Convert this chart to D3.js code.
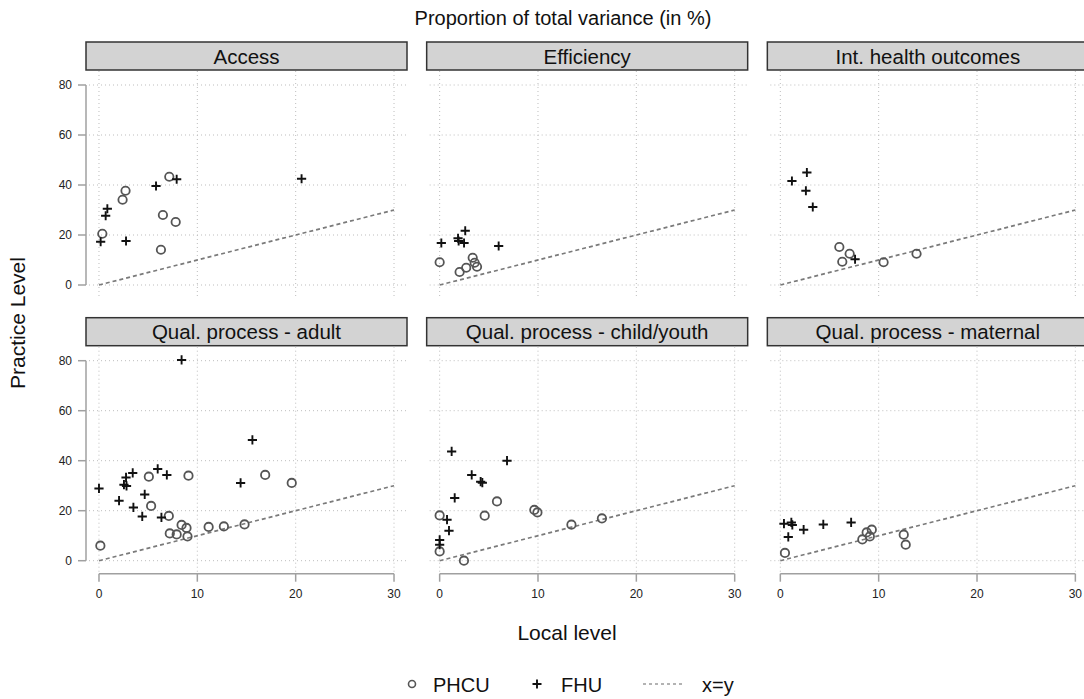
<!DOCTYPE html>
<html>
<head>
<meta charset="utf-8">
<script src="https://cdn.jsdelivr.net/npm/d3@7"></script>
<style>
  body { margin: 0; background: #fff; }
  svg { display: block; font-family: "Liberation Sans", Arial, sans-serif; }
</style>
</head>
<body>
<svg id="chart" width="1084" height="699"></svg>
<script>
// panel titles, in reading order
const panelNames = ['Access', 'Efficiency', 'Int. health outcomes',
  'Qual. process - adult', 'Qual. process - child/youth', 'Qual. process - maternal'];

// [local level, practice level] per unit
const accessPHCU = [[7.15, 43.3], [2.7, 37.7], [2.4, 34.1], [6.5, 28.0], [7.8, 25.2], [0.34, 20.5], [6.3, 14.1]];
const accessFHU = [[7.9, 42.3], [20.6, 42.5], [5.8, 39.6], [0.85, 30.5], [0.68, 27.7], [0.17, 17.3], [2.75, 17.6]];

const efficiencyPHCU = [[0, 9.1], [3.36, 10.9], [3.56, 8.9], [3.8, 7.3], [2.7, 6.9], [2.03, 5.2]];
const efficiencyFHU = [[0.17, 16.8], [2.6, 21.7], [1.87, 18.7], [1.93, 17.6], [2.48, 16.8], [6.0, 15.6]];

const healthPHCU = [[6.0, 15.2], [7.05, 12.5], [6.3, 9.3], [10.5, 9.1], [13.85, 12.5]];
const healthFHU = [[1.18, 41.6], [2.7, 45.0], [2.6, 37.7], [3.3, 31.2], [7.6, 10.3]];

const adultPHCU = [[5.07, 33.6], [9.1, 34.0], [16.9, 34.3], [19.6, 31.1], [5.3, 21.9], [7.1, 17.9],
  [8.4, 14.3], [8.9, 13.1], [11.15, 13.5], [12.7, 13.7], [14.8, 14.5], [7.2, 10.9], [7.9, 10.5],
  [9.0, 9.7], [0.14, 6.0]];
const adultFHU = [[8.4, 80.3], [15.6, 48.3], [5.97, 36.7], [3.43, 35.1], [2.75, 33.3], [6.9, 34.3],
  [2.54, 30.4], [2.8, 29.9], [0, 28.9], [14.4, 31.1], [4.65, 26.5], [2.04, 24.0], [3.5, 21.3],
  [4.4, 17.7], [6.35, 17.3]];

const childPHCU = [[5.83, 23.7], [0, 18.1], [4.58, 18.0], [9.63, 20.3], [9.94, 19.3], [13.4, 14.4],
  [16.5, 16.9], [0, 3.7], [2.47, 0]];
const childFHU = [[1.22, 43.7], [6.85, 40.0], [3.26, 34.3], [4.17, 31.6], [4.34, 31.2], [1.53, 25.1],
  [0.75, 16.4], [0.95, 12.0], [0, 8.3], [0, 6.4]];

const maternalPHCU = [[0.47, 3.1], [8.34, 8.5], [8.78, 11.3], [9.3, 12.4], [9.1, 9.7], [12.55, 10.4], [12.75, 6.4]];
const maternalFHU = [[0.37, 14.8], [1.12, 15.3], [1.22, 14.3], [0.81, 9.5], [2.37, 12.4], [4.37, 14.5], [7.2, 15.3]];

const phcuSets = [accessPHCU, efficiencyPHCU, healthPHCU, adultPHCU, childPHCU, maternalPHCU];
const fhuSets = [accessFHU, efficiencyFHU, healthFHU, adultFHU, childFHU, maternalFHU];

const xTicks = [0, 10, 20, 30];
const yTicks = [0, 20, 40, 60, 80];
const diagonal = [[0, 0], [30, 30]];

// ============ layout ============
const svg = d3.select('#chart');
const panelW = 321, panelStep = 340.67, panelLeft0 = 86;
const stripH = 28, plotH = 227;
const rowStripTop = [42, 317.7];

const x = d3.scaleLinear().domain([-1.32, 31.32]).range([0, panelW]);
const y = d3.scaleLinear().domain([-5.2, 85.6]).range([plotH, 0]);

panelNames.forEach((name, i) => {
  const col = i % 3, row = Math.floor(i / 3);
  const left = panelLeft0 + col * panelStep;
  const stripTop = rowStripTop[row];
  const plotTop = stripTop + stripH + 1;

  // strip
  const strip = svg.append('g').attr('transform', `translate(${left},${stripTop})`);
  strip.append('rect')
    .attr('width', panelW).attr('height', stripH)
    .style('fill', '#d3d3d3').style('stroke', '#333').style('stroke-width', 1.5);
  strip.append('text')
    .attr('x', panelW / 2).attr('y', stripH / 2 + 7.5)
    .attr('text-anchor', 'middle')
    .style('font-size', '20.5px').style('fill', '#111')
    .text(name);

  const g = svg.append('g').attr('transform', `translate(${left},${plotTop})`);

  // dotted grid
  g.selectAll('.gy').data(yTicks).enter().append('line')
    .attr('x1', 3).attr('x2', panelW - 1)
    .attr('y1', d => y(d)).attr('y2', d => y(d))
    .style('stroke', '#bdbdbd').style('stroke-width', 1).style('stroke-dasharray', '1,3');
  g.selectAll('.gx').data(xTicks).enter().append('line')
    .attr('x1', d => x(d)).attr('x2', d => x(d))
    .attr('y1', 0).attr('y2', plotH)
    .style('stroke', '#bdbdbd').style('stroke-width', 1).style('stroke-dasharray', '1,3');

  // x=y reference
  g.append('path')
    .attr('d', d3.line().x(d => x(d[0])).y(d => y(d[1]))(diagonal))
    .style('fill', 'none').style('stroke', '#7a7a7a').style('stroke-width', 1.7)
    .style('stroke-dasharray', '4,3');

  // PHCU circles
  g.selectAll('.phcu').data(phcuSets[i]).enter().append('circle')
    .attr('cx', d => x(d[0])).attr('cy', d => y(d[1])).attr('r', 4.2)
    .style('fill', 'none').style('stroke', '#555').style('stroke-width', 1.8);

  // FHU plus signs
  g.selectAll('.fhu').data(fhuSets[i]).enter().append('path')
    .attr('d', d => {
      const cx = x(d[0]), cy = y(d[1]), s = 4.6;
      return `M${cx - s},${cy}H${cx + s}M${cx},${cy - s}V${cy + s}`;
    })
    .style('stroke', '#111').style('stroke-width', 1.9).style('fill', 'none');

  // y axis, first column only
  if (col === 0) {
    const ax = g.append('g');
    ax.append('line')
      .attr('x1', 0).attr('x2', 0).attr('y1', y(0)).attr('y2', y(80))
      .style('stroke', '#a0a0a0').style('stroke-width', 1.5);
    ax.selectAll('.yt').data(yTicks).enter().append('line')
      .attr('x1', -8).attr('x2', 0).attr('y1', d => y(d)).attr('y2', d => y(d))
      .style('stroke', '#a0a0a0').style('stroke-width', 1.5);
    ax.selectAll('.yl').data(yTicks).enter().append('text')
      .attr('x', -14).attr('y', d => y(d) + 4)
      .attr('text-anchor', 'end')
      .style('font-size', '12px').style('fill', '#222')
      .text(d => d);
  }

  // x axis, bottom row only
  if (row === 1) {
    const ax = g.append('g').attr('transform', `translate(0,${plotH})`);
    ax.append('line')
      .attr('x1', x(0)).attr('x2', x(30)).attr('y1', 0).attr('y2', 0)
      .style('stroke', '#a0a0a0').style('stroke-width', 1.5);
    ax.selectAll('.xt').data(xTicks).enter().append('line')
      .attr('x1', d => x(d)).attr('x2', d => x(d)).attr('y1', 0).attr('y2', 8)
      .style('stroke', '#a0a0a0').style('stroke-width', 1.5);
    ax.selectAll('.xl').data(xTicks).enter().append('text')
      .attr('x', d => x(d)).attr('y', 24)
      .attr('text-anchor', 'middle')
      .style('font-size', '12px').style('fill', '#222')
      .text(d => d);
  }
});

// ============ titles ============
svg.append('text')
  .attr('x', 563).attr('y', 25)
  .attr('text-anchor', 'middle')
  .style('font-size', '20px').style('fill', '#111')
  .text('Proportion of total variance (in %)');

svg.append('text')
  .attr('x', 567).attr('y', 640)
  .attr('text-anchor', 'middle')
  .style('font-size', '21px').style('fill', '#111')
  .text('Local level');

svg.append('text')
  .attr('transform', 'translate(25,323) rotate(-90)')
  .attr('text-anchor', 'middle')
  .style('font-size', '21px').style('fill', '#111')
  .text('Practice Level');

// ============ legend ============
const legend = svg.append('g').attr('transform', 'translate(0,684)');
legend.append('circle')
  .attr('cx', 412).attr('cy', 0).attr('r', 3.5)
  .style('fill', 'none').style('stroke', '#555').style('stroke-width', 1.6);
legend.append('text').attr('x', 433).attr('y', 7.5)
  .style('font-size', '20px').style('fill', '#111').text('PHCU');
legend.append('path')
  .attr('d', 'M532.5,0H541.5M537,-4.5V4.5')
  .style('stroke', '#111').style('stroke-width', 1.9);
legend.append('text').attr('x', 561).attr('y', 7.5)
  .style('font-size', '20px').style('fill', '#111').text('FHU');
legend.append('line')
  .attr('x1', 643).attr('x2', 683).attr('y1', 0).attr('y2', 0)
  .style('stroke', '#9a9a9a').style('stroke-width', 1.3).style('stroke-dasharray', '3,3');
legend.append('text').attr('x', 702).attr('y', 7.5)
  .style('font-size', '20px').style('fill', '#111').text('x=y');
</script>
</body>
</html>
